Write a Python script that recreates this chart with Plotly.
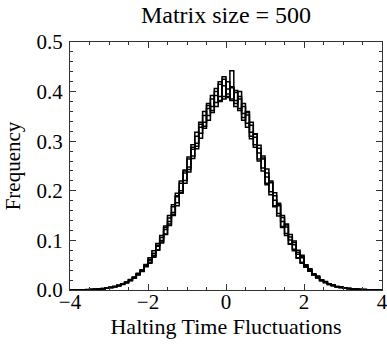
import numpy as np
import plotly.graph_objects as go

# Histogram bins
bin_start = -4.0
bin_width = 0.1

# Frequencies (density) per bin for several runs, bins from -4 to 4
run_1 = [
    0.0000, 0.0003, 0.0003, 0.0006, 0.0006, 0.0012, 0.0013, 0.0022, 0.0026, 0.0041,
    0.0048, 0.0073, 0.0086, 0.0125, 0.0149, 0.0207, 0.0243, 0.0330, 0.0385, 0.0502,
    0.0560, 0.0790, 0.0810, 0.1100, 0.1130, 0.1500, 0.1520, 0.1950, 0.1960, 0.2420,
    0.2430, 0.2930, 0.2900, 0.3380, 0.3300, 0.3760, 0.3620, 0.4000, 0.3820, 0.4120,
    0.3880, 0.4080, 0.3760, 0.3900, 0.3480, 0.3580, 0.3100, 0.3150, 0.2640, 0.2700,
    0.2150, 0.2200, 0.1700, 0.1720, 0.1280, 0.1310, 0.0930, 0.0960, 0.0650, 0.0680,
    0.0470, 0.0410, 0.0305, 0.0265, 0.0190, 0.0162, 0.0113, 0.0097, 0.0066, 0.0055,
    0.0036, 0.0031, 0.0018, 0.0017, 0.0009, 0.0008, 0.0004, 0.0005, 0.0001, 0.0002,
]
run_2 = [
    0.0002, 0.0001, 0.0005, 0.0004, 0.0008, 0.0009, 0.0016, 0.0018, 0.0030, 0.0035,
    0.0055, 0.0064, 0.0097, 0.0112, 0.0161, 0.0189, 0.0262, 0.0303, 0.0410, 0.0470,
    0.0650, 0.0660, 0.0940, 0.0950, 0.1290, 0.1300, 0.1720, 0.1700, 0.2200, 0.2150,
    0.2680, 0.2650, 0.3180, 0.3060, 0.3600, 0.3420, 0.3920, 0.3700, 0.4150, 0.3850,
    0.4200, 0.3820, 0.4020, 0.3620, 0.3760, 0.3280, 0.3380, 0.2880, 0.2920, 0.2400,
    0.2440, 0.1920, 0.1960, 0.1490, 0.1500, 0.1100, 0.1120, 0.0790, 0.0800, 0.0540,
    0.0510, 0.0380, 0.0330, 0.0240, 0.0208, 0.0146, 0.0125, 0.0086, 0.0073, 0.0047,
    0.0041, 0.0025, 0.0022, 0.0013, 0.0012, 0.0006, 0.0006, 0.0003, 0.0003, 0.0001,
]
run_3 = [
    0.0001, 0.0002, 0.0004, 0.0005, 0.0006, 0.0011, 0.0014, 0.0021, 0.0027, 0.0039,
    0.0050, 0.0070, 0.0089, 0.0122, 0.0150, 0.0202, 0.0247, 0.0322, 0.0388, 0.0495,
    0.0600, 0.0700, 0.0880, 0.1000, 0.1220, 0.1380, 0.1560, 0.1880, 0.2000, 0.2360,
    0.2480, 0.2840, 0.2960, 0.3280, 0.3380, 0.3660, 0.3700, 0.3920, 0.3900, 0.4250,
    0.3950, 0.4420, 0.3820, 0.4000, 0.3560, 0.3600, 0.3180, 0.3140, 0.2760, 0.2640,
    0.2280, 0.2160, 0.1810, 0.1700, 0.1380, 0.1270, 0.1010, 0.0910, 0.0720, 0.0650,
    0.0480, 0.0420, 0.0310, 0.0270, 0.0194, 0.0166, 0.0116, 0.0100, 0.0068, 0.0058,
    0.0037, 0.0032, 0.0019, 0.0018, 0.0010, 0.0008, 0.0005, 0.0004, 0.0002, 0.0002,
]
run_4 = [
    0.0002, 0.0002, 0.0003, 0.0006, 0.0007, 0.0010, 0.0016, 0.0019, 0.0029, 0.0036,
    0.0053, 0.0066, 0.0094, 0.0115, 0.0158, 0.0192, 0.0258, 0.0310, 0.0403, 0.0478,
    0.0620, 0.0680, 0.0900, 0.0970, 0.1260, 0.1330, 0.1680, 0.1760, 0.2150, 0.2210,
    0.2640, 0.2700, 0.3100, 0.3160, 0.3520, 0.3520, 0.3850, 0.3780, 0.4200, 0.3900,
    0.4050, 0.3850, 0.3980, 0.3660, 0.3700, 0.3360, 0.3320, 0.2930, 0.2860, 0.2460,
    0.2360, 0.1980, 0.1900, 0.1540, 0.1460, 0.1140, 0.1070, 0.0820, 0.0760, 0.0560,
    0.0495, 0.0390, 0.0322, 0.0246, 0.0202, 0.0150, 0.0122, 0.0088, 0.0070, 0.0049,
    0.0039, 0.0026, 0.0021, 0.0014, 0.0011, 0.0007, 0.0005, 0.0003, 0.0002, 0.0002,
]
run_5 = [
    0.0001, 0.0002, 0.0002, 0.0005, 0.0007, 0.0011, 0.0012, 0.0020, 0.0024, 0.0040,
    0.0046, 0.0070, 0.0082, 0.0128, 0.0142, 0.0212, 0.0236, 0.0338, 0.0372, 0.0515,
    0.0540, 0.0740, 0.0800, 0.1060, 0.1120, 0.1450, 0.1500, 0.1900, 0.1950, 0.2400,
    0.2380, 0.2880, 0.2850, 0.3340, 0.3260, 0.3720, 0.3580, 0.4060, 0.3800, 0.4300,
    0.3900, 0.4100, 0.3700, 0.3850, 0.3420, 0.3530, 0.3050, 0.3080, 0.2600, 0.2660,
    0.2120, 0.2170, 0.1680, 0.1750, 0.1260, 0.1330, 0.0920, 0.0990, 0.0640, 0.0700,
    0.0460, 0.0430, 0.0300, 0.0280, 0.0185, 0.0170, 0.0110, 0.0102, 0.0064, 0.0058,
    0.0035, 0.0033, 0.0017, 0.0018, 0.0009, 0.0009, 0.0004, 0.0004, 0.0002, 0.0001,
]
runs = [run_1, run_2, run_3, run_4, run_5]

x_tick_vals = [-4, -2, 0, 2, 4]
x_tick_text = ["\u22124", "\u22122", "0", "2", "4"]
y_tick_vals = [0.0, 0.1, 0.2, 0.3, 0.4, 0.5]
y_tick_text = ["0.0", "0.1", "0.2", "0.3", "0.4", "0.5"]

FONT = "Liberation Serif, Times New Roman, serif"

fig = go.Figure()
for vals in runs:
    n = len(vals)
    edges = bin_start + bin_width * np.arange(n + 1)
    xs = np.concatenate([[edges[0]], edges])
    ys = np.concatenate([[0.0], vals, [vals[-1]]])
    fig.add_trace(go.Scatter(
        x=xs, y=ys, mode="lines", line_shape="hv",
        line=dict(color="black", width=1.5), showlegend=False,
        hoverinfo="skip",
    ))

axis_common = dict(
    showline=True, linecolor="#333333", linewidth=1, mirror="ticks",
    ticks="inside", ticklen=6, tickcolor="#333333", tickwidth=1,
    showgrid=False, zeroline=False, automargin=False,
    ticklabeloverflow="allow",
    tickfont=dict(family=FONT, size=21, color="black"),
)

fig.update_xaxes(
    range=[-4, 4], tickvals=x_tick_vals, ticktext=x_tick_text,
    minor=dict(ticks="inside", dtick=0.5, ticklen=3, tickcolor="#333333"),
    ticklabelstandoff=-7,
    title=dict(text="Halting Time Fluctuations", font=dict(family=FONT, size=22, color="black"), standoff=4),
    **axis_common,
)
fig.update_yaxes(
    range=[0, 0.5], tickvals=y_tick_vals, ticktext=y_tick_text,
    minor=dict(ticks="inside", dtick=0.02, ticklen=3, tickcolor="#333333"),
    ticklabelstandoff=2,
    title=dict(text="Frequency", font=dict(family=FONT, size=21, color="black"), standoff=10),
    **axis_common,
)

fig.update_layout(
    width=387, height=344,
    margin=dict(l=70, r=5, t=42, b=54),
    paper_bgcolor="white", plot_bgcolor="white",
    title=dict(text="Matrix size = 500", x=0.5, xref="paper", y=1 - 15 / 344,
               yref="container", yanchor="middle", xanchor="center",
               font=dict(family=FONT, size=24, color="black")),
)

fig.write_html(
    "out.html",
    config={"displayModeBar": False},
    post_script="document.body.style.margin='0';document.body.style.overflow='hidden';",
)
